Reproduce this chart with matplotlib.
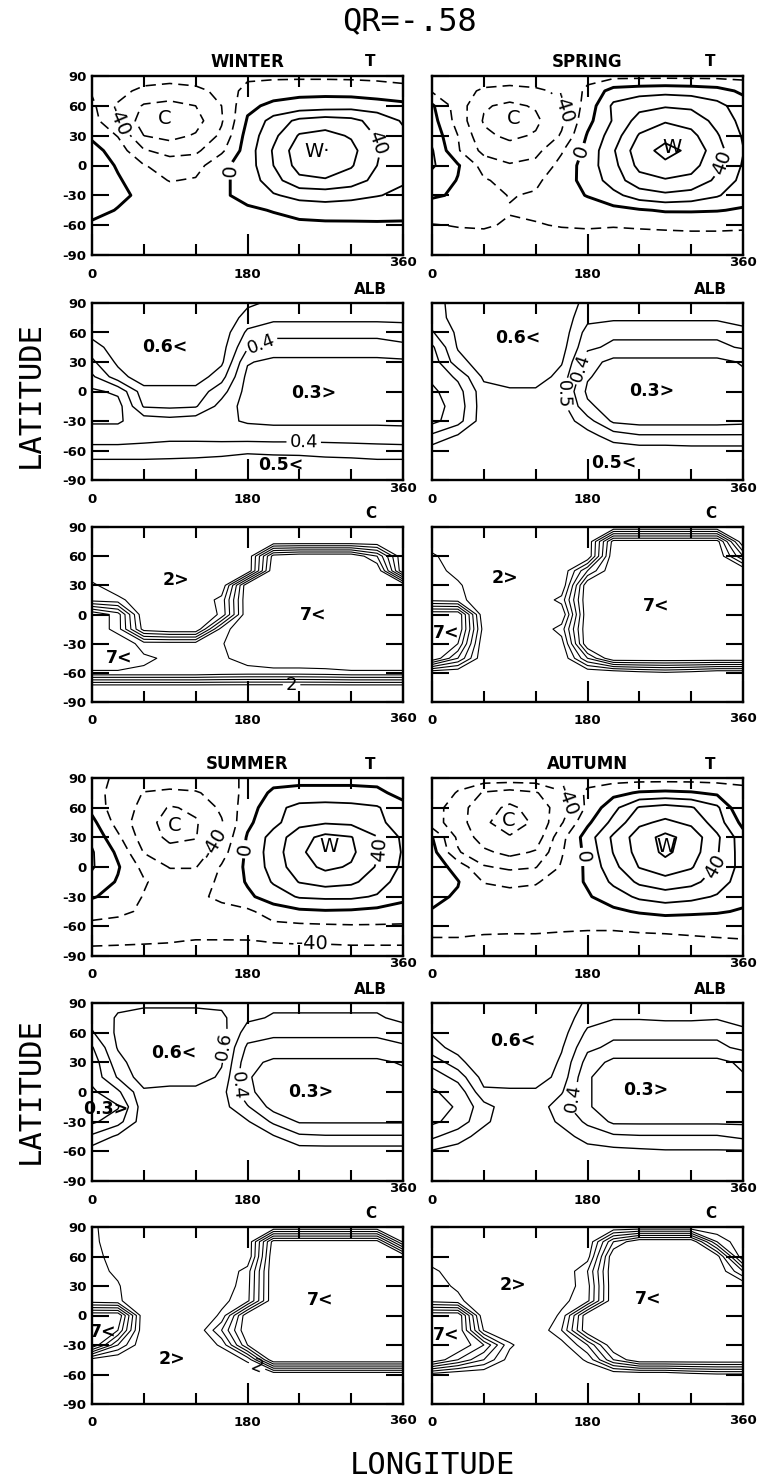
import warnings
warnings.filterwarnings("ignore")
import numpy as np
import matplotlib
matplotlib.use("Agg")
import matplotlib.pyplot as plt

# ---------------------------------------------------------------- data
LON = [0, 30, 60, 90, 120, 150, 180, 210, 240, 270, 300, 330, 360]
LAT = [90, 75, 60, 45, 30, 15, 0, -15, -30, -45, -60, -75, -90]   # row order of every grid

T_WINTER = [
    [-30, -30, -30, -32, -30, -28, -25, -24, -24, -24, -24, -24, -24],
    [-22, -34, -45, -48, -45, -35, -12, -8, -6, -6, -8, -12, -16],
    [-16, -42, -62, -66, -60, -40, -4, 4, 8, 10, 12, 10, 6],
    [-12, -40, -70, -76, -68, -42, 2, 28, 45, 50, 46, 32, 18],
    [-4, -21, -60, -66, -58, -36, 8, 35, 62, 66, 58, 38, 24],
    [8, -10, -38, -48, -44, -24, 10, 42, 72, 76, 66, 42, 26],
    [12, -2, -19, -28, -28, -5, 10, 40, 68, 72, 62, 40, 26],
    [14, 2, -10, -21, -18, -4, 8, 32, 55, 58, 50, 34, 22],
    [12, 4, -4, -8, -8, -3, 6, 18, 26, 28, 26, 21, 16],
    [6, -1, -3, -5, -5, -4, -3, 1, 8, 10, 8, 6, 5],
    [-3, -5, -6, -7, -7, -7, -7, -6, -5, -4, -3, -2, -2],
    [-8, -9, -10, -10, -10, -10, -10, -10, -9, -9, -8, -8, -8],
    [-10, -10, -10, -10, -10, -10, -10, -10, -10, -10, -10, -10, -10],
]
T_SPRING = [
    [-26, -26, -26, -26, -26, -26, -26, -26, -26, -26, -26, -26, -26],
    [-22, -30, -44, -48, -44, -36, -16, 8, 12, 14, 12, 8, -4],
    [3, -30, -58, -64, -58, -42, -12, 24, 34, 38, 36, 26, 10],
    [8, -28, -62, -70, -64, -44, -6, 22, 48, 58, 52, 34, 14],
    [14, -20, -56, -64, -58, -38, 2, 30, 62, 74, 66, 42, 18],
    [22, -18, -46, -52, -46, -22, 6, 38, 72, 86, 76, 48, 21],
    [23, 2, -28, -38, -34, -14, 10, 34, 66, 76, 68, 44, 18],
    [12, -1, -18, -26, -24, -8, 6, 30, 52, 58, 54, 36, 14],
    [2, -2, -12, -21, -18, -8, 1, 14, 30, 36, 32, 22, 8],
    [-8, -9, -12, -19, -17, -12, -10, -6, -2, 2, 2, 1, -2],
    [-21, -19, -18, -22, -21, -19, -18, -19, -18, -17, -16, -16, -17],
    [-26, -26, -26, -26, -26, -26, -26, -26, -26, -26, -26, -26, -26],
    [-28, -28, -28, -28, -28, -28, -28, -28, -28, -28, -28, -28, -28],
]
T_SUMMER = [
    [-16, -22, -26, -28, -26, -24, -18, -8, -6, -6, -6, -6, -10],
    [-14, -26, -41, -44, -42, -32, -14, 4, 6, 6, 6, 4, -6],
    [-6, -32, -44, -62, -56, -36, -10, 14, 26, 28, 26, 22, 6],
    [6, -28, -52, -68, -62, -42, -4, 14, 34, 38, 36, 26, 8],
    [16, -16, -50, -64, -61, -36, 2, 28, 52, 66, 61, 41, 16],
    [22, -4, -41, -54, -52, -28, 4, 30, 56, 72, 64, 42, 18],
    [22, 2, -26, -41, -41, -18, 4, 28, 52, 64, 58, 38, 16],
    [14, -2, -18, -30, -30, -16, 2, 22, 41, 48, 44, 30, 10],
    [2, -8, -21, -22, -24, -16, -4, 10, 22, 24, 24, 18, 6],
    [-14, -17, -22, -26, -28, -26, -24, -10, -4, -2, -3, -6, -10],
    [-24, -25, -26, -28, -30, -30, -28, -25, -24, -23, -22, -22, -22],
    [-36, -37, -38, -39, -41, -41, -41, -39, -38, -38, -37, -37, -37],
    [-48, -48, -48, -48, -48, -48, -48, -48, -48, -48, -48, -48, -48],
]
T_AUTUMN = [
    [-28, -28, -28, -28, -28, -28, -28, -28, -28, -28, -28, -28, -28],
    [-22, -42, -62, -68, -62, -42, -16, -6, 2, 4, 2, -4, -12],
    [-30, -52, -72, -84, -72, -50, -16, 14, 42, 48, 42, 24, -21],
    [-32, -50, -78, -86, -78, -42, -4, 26, 56, 64, 56, 30, -6],
    [1, -44, -70, -79, -72, -26, 10, 44, 70, 86, 72, 44, 8],
    [8, -38, -56, -66, -58, -22, 6, 41, 68, 84, 70, 42, 10],
    [12, -8, -38, -44, -41, -18, 4, 34, 61, 72, 62, 38, 12],
    [10, 1, -21, -24, -22, -10, 2, 24, 44, 52, 46, 30, 10],
    [4, -2, -10, -14, -12, -8, -2, 10, 24, 30, 26, 18, 6],
    [-1, -6, -10, -12, -12, -10, -8, -4, 2, 6, 4, 2, -2],
    [-14, -14, -15, -16, -16, -17, -18, -18, -17, -16, -15, -14, -14],
    [-22, -22, -24, -24, -24, -25, -25, -25, -24, -24, -23, -22, -21],
    [-28, -28, -28, -28, -28, -28, -28, -28, -28, -28, -28, -28, -28],
]

ALB_WINTER = [
    [.70, .70, .70, .70, .70, .70, .62, .58, .58, .58, .58, .58, .58],
    [.68, .70, .70, .70, .70, .68, .56, .53, .53, .53, .53, .53, .53],
    [.64, .68, .70, .70, .70, .66, .48, .42, .42, .42, .42, .42, .44],
    [.55, .66, .70, .70, .70, .64, .41, .37, .37, .37, .37, .37, .38],
    [.48, .62, .70, .70, .70, .62, .31, .27, .27, .27, .27, .27, .28],
    [.38, .56, .66, .66, .66, .54, .27, .25, .25, .25, .25, .25, .26],
    [.28, .32, .56, .56, .56, .44, .26, .25, .25, .25, .25, .25, .26],
    [.25, .26, .51, .52, .51, .36, .26, .25, .25, .25, .25, .25, .25],
    [.29, .29, .34, .36, .34, .32, .29, .28, .28, .28, .28, .28, .28],
    [.34, .34, .36, .37, .37, .36, .35, .35, .35, .35, .35, .35, .34],
    [.44, .44, .44, .45, .45, .46, .48, .47, .47, .46, .45, .44, .44],
    [.54, .54, .54, .54, .55, .56, .57, .57, .56, .55, .55, .54, .54],
    [.58, .58, .58, .58, .58, .58, .58, .58, .58, .58, .58, .58, .58],
]
ALB_SPRING = [
    [.58, .62, .70, .70, .70, .68, .56, .55, .55, .55, .55, .55, .56],
    [.55, .64, .70, .70, .70, .66, .53, .52, .52, .52, .52, .52, .54],
    [.49, .62, .70, .70, .70, .66, .46, .42, .42, .42, .42, .42, .47],
    [.38, .61, .70, .70, .70, .64, .42, .38, .38, .38, .38, .38, .41],
    [.34, .56, .66, .70, .70, .61, .34, .27, .27, .27, .27, .27, .31],
    [.32, .42, .62, .66, .66, .56, .31, .25, .25, .25, .25, .25, .28],
    [.28, .36, .56, .58, .58, .51, .28, .25, .25, .25, .25, .25, .26],
    [.26, .34, .56, .56, .56, .54, .32, .25, .25, .25, .25, .25, .26],
    [.27, .36, .56, .56, .56, .56, .44, .28, .26, .26, .26, .26, .27],
    [.42, .51, .56, .56, .56, .56, .54, .45, .41, .41, .41, .41, .41],
    [.55, .56, .57, .57, .57, .57, .57, .56, .55, .55, .54, .54, .54],
    [.58, .58, .58, .58, .58, .58, .58, .58, .58, .58, .58, .58, .58],
    [.58, .58, .58, .58, .58, .58, .58, .58, .58, .58, .58, .58, .58],
]
ALB_SUMMER = [
    [.56, .58, .58, .58, .58, .58, .55, .52, .52, .52, .52, .52, .54],
    [.54, .61, .64, .64, .64, .62, .52, .49, .49, .49, .49, .49, .52],
    [.49, .62, .68, .68, .68, .64, .45, .42, .42, .42, .42, .42, .46],
    [.39, .61, .68, .68, .68, .62, .38, .36, .36, .36, .36, .36, .38],
    [.34, .56, .68, .68, .68, .61, .33, .28, .28, .28, .28, .28, .31],
    [.33, .51, .66, .66, .66, .58, .31, .25, .25, .25, .25, .25, .27],
    [.28, .38, .58, .56, .56, .54, .32, .25, .25, .25, .25, .25, .26],
    [.25, .29, .56, .56, .56, .54, .41, .26, .25, .25, .25, .25, .25],
    [.28, .36, .56, .56, .56, .56, .51, .38, .29, .29, .29, .29, .29],
    [.42, .52, .56, .56, .56, .56, .55, .51, .42, .41, .41, .41, .41],
    [.55, .56, .56, .56, .56, .56, .56, .56, .55, .55, .55, .55, .55],
    [.56, .56, .56, .56, .56, .56, .56, .56, .56, .56, .56, .56, .56],
    [.56, .56, .56, .56, .56, .56, .56, .56, .56, .56, .56, .56, .56],
]
ALB_AUTUMN = [
    [.66, .70, .70, .70, .70, .68, .58, .55, .55, .55, .55, .55, .58],
    [.64, .70, .70, .70, .70, .66, .54, .51, .51, .52, .52, .51, .53],
    [.61, .68, .70, .70, .70, .64, .48, .42, .42, .42, .42, .42, .48],
    [.56, .64, .70, .70, .70, .61, .42, .38, .38, .38, .38, .38, .42],
    [.44, .56, .70, .70, .70, .58, .36, .27, .27, .27, .27, .27, .32],
    [.33, .44, .64, .66, .66, .56, .31, .25, .25, .25, .25, .25, .29],
    [.29, .33, .58, .58, .58, .51, .31, .25, .25, .25, .25, .25, .27],
    [.26, .31, .46, .56, .56, .44, .31, .25, .25, .25, .25, .25, .26],
    [.28, .34, .48, .56, .56, .48, .38, .28, .28, .28, .28, .28, .28],
    [.38, .46, .54, .56, .56, .54, .46, .42, .41, .41, .41, .41, .38],
    [.51, .54, .56, .56, .56, .56, .54, .53, .52, .51, .51, .51, .51],
    [.56, .56, .56, .56, .56, .56, .56, .56, .56, .56, .56, .56, .56],
    [.58, .58, .58, .58, .58, .58, .58, .58, .58, .58, .58, .58, .58],
]

C_WINTER = [
    [1, 1, 1, 1, 1, 1, 1, 1, 1, 1, 1, 1, 1],
    [1, 1, 1, 1, 1, 1, 1, 1, 1, 1, 1, 1, 1],
    [1, 1, 1, 1, 1, 1, 1, 7.5, 8, 8, 8, 6, 1],
    [1, 1, 1, 1, 1, 1, 1, 8, 8, 8, 8, 8, 1],
    [2.3, 1, 1, 1, 1, 1, 8, 8, 8, 8, 8, 8, 8],
    [2.6, 2.4, 1, 1, 1, 2.4, 8, 8, 8, 8, 8, 8, 8],
    [8, 6.5, 1, 1, 1, 2.2, 8, 8, 8, 8, 8, 8, 8],
    [8, 6.5, 1.5, 1, 1, 6.5, 8, 8, 8, 8, 8, 8, 8],
    [8, 8, 6.5, 6.5, 6.5, 6.9, 8, 8, 8, 8, 8, 8, 8],
    [8, 8, 7.2, 6.8, 6.8, 6.8, 7.5, 8, 8, 8, 8, 8, 8],
    [6.8, 6.8, 6.8, 6.8, 6.8, 6.6, 6.5, 6.5, 6.5, 6.6, 6.8, 6.8, 6.8],
    [1, 1, 1, 1, 1, 1, 1, 1, 1, 1, 1, 1, 1],
    [1, 1, 1, 1, 1, 1, 1, 1, 1, 1, 1, 1, 1],
]
C_SPRING = [
    [1, 1, 1, 1, 1, 1, 1, 1, 1, 1, 1, 1, 1],
    [1, 1, 1, 1, 1, 1, 1, 7.5, 7.5, 7.5, 7.5, 7.5, 1],
    [2.3, 1, 1, 1, 1, 1, 1, 8, 8, 8, 8, 8, 4],
    [2.5, 1.6, 1, 1, 1, 1, 5, 8, 8, 8, 8, 8, 8],
    [2.6, 2.2, 1, 1, 1, 1, 8, 8, 8, 8, 8, 8, 8],
    [2.7, 2.5, 1, 1, 1, 2.4, 8, 8, 8, 8, 8, 8, 8],
    [8, 8, 1, 1, 1, 1, 8, 8, 8, 8, 8, 8, 8],
    [8, 8, 1.5, 1, 1, 2.5, 8, 8, 8, 8, 8, 8, 8],
    [8, 7, 1, 1, 1, 1.5, 8, 8, 8, 8, 8, 8, 8],
    [8, 5, 1, 1, 1, 1, 5, 8, 8, 8, 8, 8, 8],
    [1, 1, 1, 1, 1, 1, 1, 1, 1.5, 1.8, 1.5, 1, 1],
    [1, 1, 1, 1, 1, 1, 1, 1, 1, 1, 1, 1, 1],
    [1, 1, 1, 1, 1, 1, 1, 1, 1, 1, 1, 1, 1],
]
C_SUMMER = [
    [2.3, 1, 1, 1, 1, 1, 1, 1, 1, 1, 1, 1, 1],
    [2.4, 1, 1, 1, 1, 1, 1, 7.5, 7.5, 7.5, 7.5, 7.5, 1.8],
    [2.4, 1.5, 1, 1, 1, 1, 1, 8, 8, 8, 8, 8, 8],
    [2.4, 1.8, 1, 1, 1, 1, 2.5, 8, 8, 8, 8, 8, 8],
    [2.4, 2.1, 1, 1, 1, 1.3, 2.6, 8, 8, 8, 8, 8, 8],
    [2.4, 2.2, 1, 1, 1, 1.7, 2.7, 8, 8, 8, 8, 8, 8],
    [8, 8, 1, 1, 1, 2.2, 8, 8, 8, 8, 8, 8, 8],
    [8, 7, 1, 1, 1, 4, 8, 8, 8, 8, 8, 8, 8],
    [8, 4, 1, 1, 1, 2.2, 7, 8, 8, 8, 8, 8, 8],
    [1.5, 1, 1, 1, 1, 1, 2.2, 8, 8, 8, 8, 8, 8],
    [1, 1, 1, 1, 1, 1, 1, 1, 1, 1, 1, 1, 1],
    [1, 1, 1, 1, 1, 1, 1, 1, 1, 1, 1, 1, 1],
    [1, 1, 1, 1, 1, 1, 1, 1, 1, 1, 1, 1, 1],
]
C_AUTUMN = [
    [1, 1, 1, 1, 1, 1, 1, 1, 1, 1, 1, 1, 1],
    [1, 1, 1, 1, 1, 1, 1, 6, 8, 8, 8, 3, 1],
    [1, 1, 1, 1, 1, 1, 1.5, 8, 8, 8, 8, 7.5, 1],
    [2.4, 1, 1, 1, 1, 1, 3, 8, 8, 8, 8, 8, 5],
    [2.5, 1.8, 1, 1, 1, 1.3, 2.6, 8, 8, 8, 8, 8, 8],
    [2.6, 2.3, 1, 1, 1, 1.7, 2.7, 8, 8, 8, 8, 8, 8],
    [8, 8, 1, 1, 1, 2.2, 8, 8, 8, 8, 8, 8, 8],
    [8, 8, 1.9, 1, 1, 3, 8, 8, 8, 8, 8, 8, 8],
    [8, 8, 6, 2.2, 1, 1.5, 4, 8, 8, 8, 8, 8, 8],
    [8, 6, 4, 1.5, 1, 1, 2.2, 6, 8, 8, 8, 8, 8],
    [1.5, 1, 1, 1, 1, 1, 1, 1, 1, 1, 1.5, 1.8, 1.8],
    [1, 1, 1, 1, 1, 1, 1, 1, 1, 1, 1, 1, 1],
    [1, 1, 1, 1, 1, 1, 1, 1, 1, 1, 1, 1, 1],
]

T_LEVELS = [-80, -60, -40, -20, 0, 20, 40, 60, 80]
ALB_LEVELS = [0.3, 0.4, 0.5, 0.6]
C_LEVELS = [2, 3, 4, 5, 6, 7]
X_MAJOR = [0, 180, 360]
X_MAJOR_LABELS = ["0", "180", ""]
X_END_LABEL = "360"
X_MINOR = [60, 120, 240, 300]
Y_TICKS = [-90, -60, -30, 0, 30, 60, 90]
SEASONS = ["WINTER", "SPRING", "SUMMER", "AUTUMN"]
FIELDS = ["T", "ALB", "C"]
TITLE = "QR=-.58"

# ---------------------------------------------------------------- layout / style
W, H = 763, 1483
fig = plt.figure(figsize=(W / 100, H / 100), dpi=100)
fig.patch.set_facecolor("white")
plt.rcParams["lines.dashed_pattern"] = [6.5, 3.8]

ROW_PX = [(76, 255), (303, 480), (527, 702), (778, 956), (1003, 1181), (1227, 1404)]
RAISED_END_ROWS = {0, 1, 3, 4}
COL_PX = [92, 432]
AX_W = 311
BOLD = dict(family="DejaVu Sans", weight="bold")
MONO = "DejaVu Sans Mono"
LABFONT = "DejaVu Sans"


def fx(x):
    return x / W


def fy(y):
    return 1 - y / H


def make_ax(col, row):
    top, bot = ROW_PX[row]
    ax = fig.add_axes([fx(COL_PX[col]), fy(bot), AX_W / W, (bot - top) / H])
    ax.set_xlim(0, 360)
    ax.set_ylim(-90, 90)
    ax.set_xticks(X_MAJOR)
    ax.set_xticklabels(X_MAJOR_LABELS, fontsize=9.5, **BOLD)
    ax.set_xticks(X_MINOR, minor=True)
    ax.set_yticks(Y_TICKS)
    if col == 0:
        ax.set_yticklabels([str(v) for v in Y_TICKS], fontsize=9.5, **BOLD)
    else:
        ax.set_yticklabels([])
    ax.tick_params(which="both", direction="in", top=True, right=True, width=1.5, colors="black")
    ax.tick_params(axis="x", which="major", length=15, pad=9)
    ax.tick_params(axis="x", which="minor", length=8)
    ax.tick_params(axis="y", which="major", length=12, pad=4)
    for s in ax.spines.values():
        s.set_linewidth(1.7)
    drop = 8 if row in RAISED_END_ROWS else 17
    ax.annotate(X_END_LABEL, xy=(1, 0), xycoords="axes fraction", xytext=(0, -drop),
                textcoords="offset pixels", ha="center", va="center", fontsize=9.5, **BOLD)
    return ax


lat_asc = np.array(LAT)[::-1]
lon_arr = np.array(LON)


def field(rows):
    return np.array(rows, dtype=float)[::-1]


def contour_each(ax, Z, levels, style):
    sets = {}
    for lev in levels:
        sets[lev] = ax.contour(lon_arr, lat_asc, Z, levels=[lev], colors="k", **style(lev))
    return sets


def label_at(ax, sets, specs, fmt, size):
    for lev, x, y in specs:
        cs = sets.get(lev)
        if cs is None:
            continue
        try:
            ax.clabel(cs, manual=[(x, y)], inline=True, fmt=fmt, fontsize=size, inline_spacing=3)
            for t in cs.labelTexts:
                t.set_fontfamily(LABFONT)
        except Exception:
            pass


def t_style(lev):
    if lev < 0:
        return dict(linewidths=1.15, linestyles="dashed")
    if lev == 0:
        return dict(linewidths=2.1, linestyles="solid")
    return dict(linewidths=1.3, linestyles="solid")


def draw_T(ax, rows, clab, texts):
    sets = contour_each(ax, field(rows), T_LEVELS, t_style)
    label_at(ax, sets, clab, lambda v: f"{v:.0f}", 14)
    for s, x, y in texts:
        ax.text(x, y, s, ha="center", va="center", family=LABFONT, fontsize=14)


def draw_ALB(ax, rows, clab, texts):
    sets = contour_each(ax, field(rows), ALB_LEVELS, lambda l: dict(linewidths=1.0))
    label_at(ax, sets, clab, lambda v: f"{v:.1f}", 13)
    for s, x, y in texts:
        ax.text(x, y, s, ha="center", va="center", family=LABFONT, fontsize=12.5, weight="bold")


def draw_C(ax, rows, clab, texts):
    sets = contour_each(ax, field(rows), C_LEVELS, lambda l: dict(linewidths=0.8))
    label_at(ax, sets, clab, lambda v: f"{v:.0f}", 13)
    for s, x, y in texts:
        ax.text(x, y, s, ha="center", va="center", family=LABFONT, fontsize=12.5, weight="bold")


# annotation placement (lon, lat) for each panel
T_LAB = {
    "WINTER": ([(-40, 22, 40), (0, 160, -5), (40, 328, 22)], [("C", 84, 47), ("W·", 260, 14)]),
    "SPRING": ([(-40, 150, 58), (0, 172, 14), (40, 338, 2)], [("C", 94, 47), ("W", 278, 18)]),
    "SUMMER": ([(-40, 133, 28), (0, 176, 18), (40, 340, 18), (-40, 255, -77)], [("C", 96, 42), ("W", 274, 21)]),
    "AUTUMN": ([(-40, 157, 68), (0, 170, 10), (40, 330, -2)], [("C", 89, 47), ("W", 271, 21)]),
}
ALB_LAB = {
    "WINTER": ([(0.4, 245, -54), (0.4, 195, 50)], [("0.6<", 84, 45), ("0.3>", 257, -2), ("0.5<", 218, -75)]),
    "SPRING": ([(0.4, 168, 25), (0.5, 155, -2)], [("0.6<", 99, 54), ("0.3>", 254, 0), ("0.5<", 211, -73)]),
    "SUMMER": ([(0.6, 157, 46), (0.4, 163, 7)], [("0.6<", 95, 39), ("0.3>", 253, 0), ("0.3>", 16, -17)]),
    "AUTUMN": ([(0.4, 156, -4)], [("0.6<", 93, 52), ("0.3>", 247, 2)]),
}
C_LAB = {
    "WINTER": ([(2, 231, -71)], [("2>", 97, 35), ("7<", 256, -1), ("7<", 32, -45)]),
    "SPRING": ([], [("2>", 84, 38), ("7<", 259, 9), ("7<", 16, -19)]),
    "SUMMER": ([(2, 193, -47)], [("2>", 93, -44), ("7<", 264, 16), ("7<", 13, -17)]),
    "AUTUMN": ([], [("2>", 94, 31), ("7<", 250, 17), ("7<", 17, -20)]),
}

T_DATA = {"WINTER": T_WINTER, "SPRING": T_SPRING, "SUMMER": T_SUMMER, "AUTUMN": T_AUTUMN}
ALB_DATA = {"WINTER": ALB_WINTER, "SPRING": ALB_SPRING, "SUMMER": ALB_SUMMER, "AUTUMN": ALB_AUTUMN}
C_DATA = {"WINTER": C_WINTER, "SPRING": C_SPRING, "SUMMER": C_SUMMER, "AUTUMN": C_AUTUMN}

for i, season in enumerate(SEASONS):
    col = i % 2
    base = 0 if i < 2 else 3
    ax = make_ax(col, base)
    draw_T(ax, T_DATA[season], *T_LAB[season])
    ax = make_ax(col, base + 1)
    draw_ALB(ax, ALB_DATA[season], *ALB_LAB[season])
    ax = make_ax(col, base + 2)
    draw_C(ax, C_DATA[season], *C_LAB[season])

    # headings
    x0 = COL_PX[col]
    top0 = ROW_PX[base][0]
    fig.text(fx(x0 + AX_W * 0.5), fy(top0 - 14), season, ha="center", va="center",
             fontsize=12, **BOLD)
    for k, name in enumerate(FIELDS):
        topk = ROW_PX[base + k][0]
        fig.text(fx(x0 + AX_W * 0.895), fy(topk - 14), name, ha="center", va="center",
                 fontsize=11, **BOLD)

fig.text(fx(410), fy(22), TITLE, ha="center", va="center", family=MONO, fontsize=23)
fig.text(fx(30), fy(394), "LATITUDE", ha="center", va="center", rotation=90, family=MONO, fontsize=22)
fig.text(fx(30), fy(1090), "LATITUDE", ha="center", va="center", rotation=90, family=MONO, fontsize=22)
fig.text(fx(432), fy(1465), "LONGITUDE", ha="center", va="center", family=MONO, fontsize=22)

fig.savefig("out.png", dpi=100, facecolor="white")
